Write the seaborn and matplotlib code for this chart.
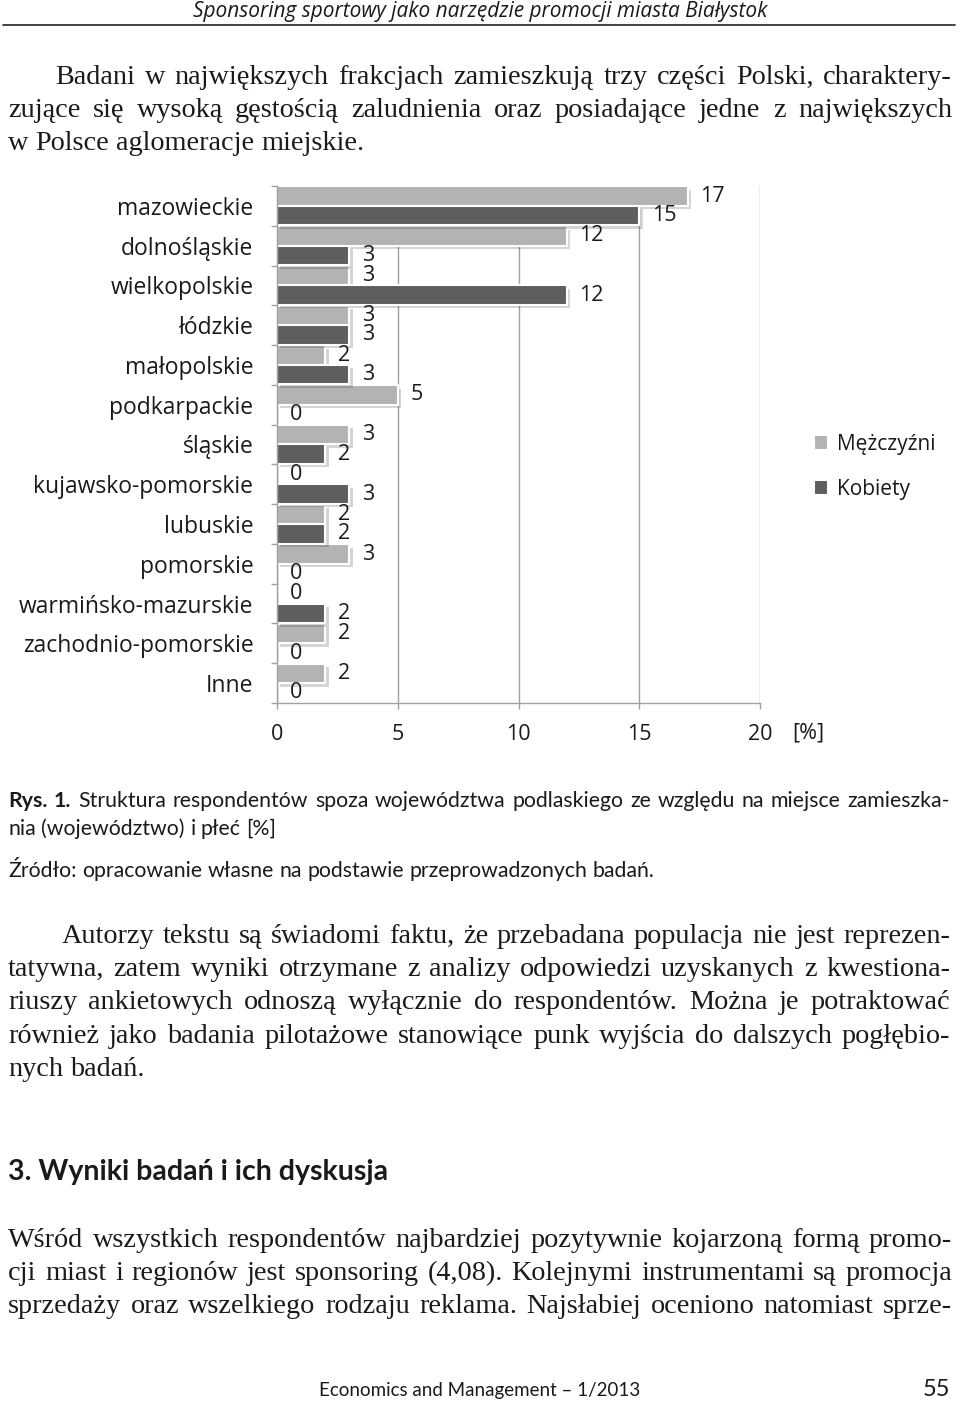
import pandas as pd
import matplotlib.pyplot as plt
import matplotlib.patheffects as pe
from matplotlib.lines import Line2D
import seaborn as sns

# Data (percent of respondents)
regions = ["mazowieckie", "dolnośląskie", "wielkopolskie", "łódzkie", "małopolskie",
           "podkarpackie", "śląskie", "kujawsko-pomorskie", "lubuskie", "pomorskie",
           "warmińsko-mazurskie", "zachodnio-pomorskie", "Inne"]
men = [17, 12, 3, 3, 2, 5, 3, 0, 2, 3, 0, 2, 2]
women = [15, 3, 12, 3, 3, 0, 2, 3, 2, 0, 2, 0, 0]
series = ["Mężczyźni", "Kobiety"]
x_ticks = [0, 5, 10, 15, 20]

df = pd.DataFrame({
    "region": regions * 2,
    "value": men + women,
    "plec": [series[0]] * len(regions) + [series[1]] * len(regions),
})

W, H = 960, 1403
sns.set_theme(style="white")
plt.rcParams["font.family"] = ["Open Sans", "DejaVu Sans"]
fig = plt.figure(figsize=(W / 100, H / 100), dpi=100)
renderer = fig.canvas.get_renderer()

SERIF = ["Liberation Serif", "DejaVu Serif"]
SANS = ["Lato", "Open Sans", "DejaVu Sans"]
TXT = "#1a1a1a"


def fy(y):
    return 1 - y / H


def text_width(s, size, family, weight="normal"):
    t = fig.text(0, 0, s, fontsize=size, family=family, weight=weight)
    w = t.get_window_extent(renderer).width
    t.remove()
    return w


def fit_size(lines, base, family):
    # font size at which the widest-filling line fits its width with plain spaces
    return min(base * (x1 - x0) / text_width(s, base, family) for s, x0, x1 in lines)


def line(s, y, x0, x1, size, family, stretch=True, bold_first=0):
    ws = s.split(" ")
    texts = [fig.text(0, fy(y), w, fontsize=size, family=family,
                      weight="bold" if i < bold_first else "normal",
                      va="baseline", ha="left", color=TXT) for i, w in enumerate(ws)]
    widths = [t.get_window_extent(renderer).width for t in texts]
    if stretch and len(texts) > 1:
        gap = (x1 - x0 - sum(widths)) / (len(texts) - 1)
    else:
        gap = text_width("a b", size, family) - text_width("ab", size, family)
    x = x0
    for t, w in zip(texts, widths):
        t.set_x(x / W)
        x += w + gap


para1 = [
    ("Badani w największych frakcjach zamieszkują trzy części Polski, charaktery-", 55, 952),
    ("zujące się wysoką gęstością zaludnienia oraz posiadające jedne z największych", 8, 952),
]
para2 = [
    ("Autorzy tekstu są świadomi faktu, że przebadana populacja nie jest reprezen-", 62, 950),
    ("tatywna, zatem wyniki otrzymane z analizy odpowiedzi uzyskanych z kwestiona-", 8, 950),
    ("riuszy ankietowych odnoszą wyłącznie do respondentów. Można je potraktować", 8, 950),
    ("również jako badania pilotażowe stanowiące punk wyjścia do dalszych pogłębio-", 8, 950),
]
para3 = [
    ("Wśród wszystkich respondentów najbardziej pozytywnie kojarzoną formą promo-", 8, 952),
    ("cji miast i regionów jest sponsoring (4,08). Kolejnymi instrumentami są promocja", 8, 952),
    ("sprzedaży oraz wszelkiego rodzaju reklama. Najsłabiej oceniono natomiast sprze-", 8, 952),
]
caption = [
    ("Rys. 1. Struktura respondentów spoza województwa podlaskiego ze względu na miejsce zamieszka-", 8, 950),
]

ps = fit_size(para1 + para2 + para3, 15, SERIF) * 0.99
cs = fit_size(caption, 13, SANS) * 0.98

# ---- header ----
fig.text(480 / W, fy(17), "Sponsoring sportowy jako narzędzie promocji miasta Białystok",
         fontsize=15, style="italic", family=["Open Sans", "DejaVu Sans"], ha="center",
         va="baseline", color=TXT)
fig.add_artist(Line2D([3 / W, 955 / W], [fy(25), fy(25)], color="#222", lw=1.2))

# ---- paragraph 1 ----
for (s, x0, x1), y in zip(para1, [84, 117]):
    line(s, y, x0, x1, ps, SERIF)
line("w Polsce aglomeracje miejskie.", 150, 8, 952, ps, SERIF, stretch=False)

# ---- chart ----
ax = fig.add_axes([277 / W, fy(703), 483 / W, 517 / H])
sns.barplot(data=df, y="region", x="value", hue="plec", orient="h",
            palette=["#b3b3b3", "#5e5e5e"], saturation=1, width=0.98,
            edgecolor="white", linewidth=1.5, errorbar=None, ax=ax)

shadow = [pe.SimplePatchShadow(offset=(2.5, -2.5), shadow_rgbFace="k", alpha=0.18), pe.Normal()]
for cont in ax.containers:
    for p in cont:
        p.set_path_effects(shadow)
    ax.bar_label(cont, padding=9, fontsize=15.5, color=TXT)

ax.set_xlim(0, 20)
ax.set_ylim(len(regions) - 0.5, -0.5)
ax.set_xticks(x_ticks)
ax.set_xticklabels([str(t) for t in x_ticks], fontsize=15.5, color=TXT)
ax.set_yticks(range(len(regions)))
ax.set_yticklabels(regions, fontsize=16.5, color=TXT)
ax.set_yticks([i - 0.5 for i in range(len(regions) + 1)], minor=True)
ax.tick_params(axis="y", which="major", length=0, pad=17)
ax.tick_params(axis="y", which="minor", length=4, color="#a0a0a0", width=1, left=True)
ax.tick_params(axis="x", length=4, color="#a0a0a0", width=1, pad=11, bottom=True)
ax.xaxis.grid(True, color="#a0a0a0", lw=1)
ax.set_axisbelow(True)
ax.set_xlabel("")
ax.set_ylabel("")
for s in ["top", "right"]:
    ax.spines[s].set_visible(False)
for s in ["left", "bottom"]:
    ax.spines[s].set_color("#a0a0a0")
    ax.spines[s].set_linewidth(1)

handles, labels = ax.get_legend_handles_labels()
ax.get_legend().remove()
fig.legend(handles, labels, loc="upper left", bbox_to_anchor=(795 / W, fy(415)),
           frameon=False, fontsize=15, handlelength=0.7, handleheight=0.7,
           handletextpad=0.4, labelspacing=1.15, labelcolor=TXT)
fig.text(808 / W, fy(733), "[%]", fontsize=15.5, ha="center", va="center", color=TXT)

# ---- caption ----
for s, x0, x1 in caption:
    line(s, 807, x0, x1, cs, SANS, bold_first=2)
line("nia (województwo) i płeć [%]", 835, 8, 950, cs, SANS, stretch=False)
line("Źródło: opracowanie własne na podstawie przeprowadzonych badań.", 877, 8, 950, cs, SANS, stretch=False)

# ---- paragraph 2 ----
for (s, x0, x1), y in zip(para2, [943, 976, 1009, 1043]):
    line(s, y, x0, x1, ps, SERIF)
line("nych badań.", 1076, 8, 950, ps, SERIF, stretch=False)

# ---- section heading ----
fig.text(8 / W, fy(1180), "3. Wyniki badań i ich dyskusja", fontsize=20.5, weight="bold",
         family=SANS, ha="left", va="baseline", color=TXT)

# ---- paragraph 3 ----
for (s, x0, x1), y in zip(para3, [1247, 1280, 1313]):
    line(s, y, x0, x1, ps, SERIF)

# ---- footer ----
fig.text(480 / W, fy(1396), "Economics and Management – 1/2013", fontsize=13.5, family=SANS,
         ha="center", va="baseline", color=TXT)
fig.text(950 / W, fy(1396), "55", fontsize=17, family=SANS, ha="right", va="baseline", color=TXT)

fig.savefig("out.png", dpi=100)
